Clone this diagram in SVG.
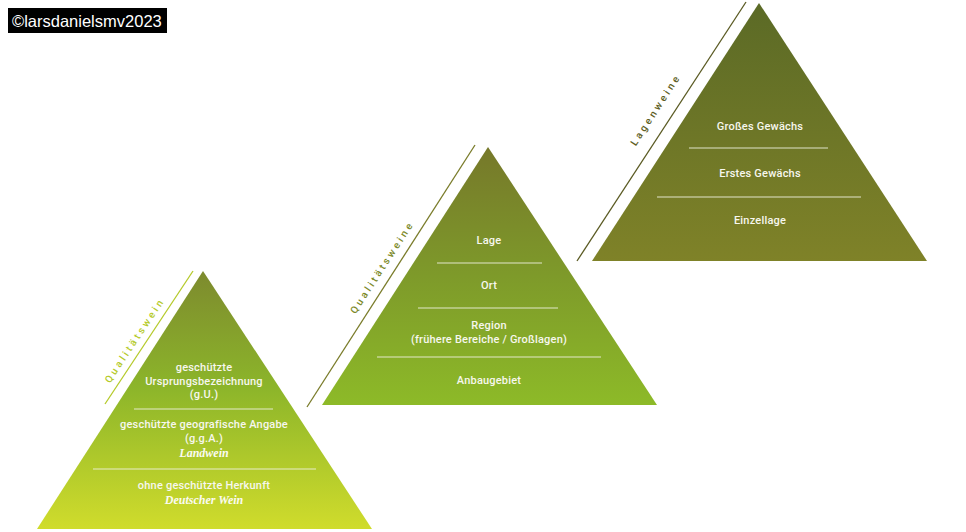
<svg xmlns="http://www.w3.org/2000/svg" width="966" height="532" viewBox="0 0 966 532">
<defs>
<linearGradient id="g1" x1="0" y1="0" x2="0" y2="1">
<stop offset="0" stop-color="#7d8a2e"/>
<stop offset="0.45" stop-color="#8cb52a"/>
<stop offset="1" stop-color="#d0dc2c"/>
</linearGradient>
<linearGradient id="g2" x1="0" y1="0" x2="0" y2="1">
<stop offset="0" stop-color="#76782a"/>
<stop offset="0.5" stop-color="#7e9a2a"/>
<stop offset="1" stop-color="#8dba28"/>
</linearGradient>
<linearGradient id="g3" x1="0" y1="0" x2="0" y2="1">
<stop offset="0" stop-color="#5b6a26"/>
<stop offset="1" stop-color="#7f8228"/>
</linearGradient>
<style>
.t{font-family:Roboto,"Liberation Sans",sans-serif;font-size:11px;font-weight:500;fill:#f7f7ee;text-anchor:middle;letter-spacing:0.2px}
.it{font-family:"Liberation Serif",serif;font-size:12px;font-style:italic;font-weight:bold;fill:#fbfbf2;text-anchor:middle}
.div{stroke:#eef0dc;stroke-width:1.2;opacity:0.9}
.side{font-family:Roboto,"Liberation Sans",sans-serif;font-size:10px;font-weight:500;text-anchor:middle;letter-spacing:3px}
</style>
</defs>
<g id="watermark">
<rect x="8" y="8" width="159" height="25" fill="#000"/>
<text x="12" y="27" font-family="'Liberation Sans',Arial,sans-serif" font-size="16.5" fill="#fff">©larsdanielsmv2023</text>
</g>
<g id="pyramid-1">
<polygon points="203,271 37,529 372,529" fill="url(#g1)"/>
<line x1="105" y1="404" x2="193" y2="271" stroke="#b5ca2a" stroke-width="1.3"/>
<text class="side" fill="#b5ca2a" transform="translate(137.5,342) rotate(-56.5)">Qualitätswein</text>
<line class="div" x1="134" y1="409" x2="273" y2="409"/>
<line class="div" x1="93" y1="469" x2="316" y2="469"/>
<text class="t" x="204" y="371">geschützte</text>
<text class="t" x="204" y="385">Ursprungsbezeichnung</text>
<text class="t" x="204" y="398">(g.U.)</text>
<text class="t" x="204" y="428">geschützte geografische Angabe</text>
<text class="t" x="204" y="442">(g.g.A.)</text>
<text class="it" x="204" y="457">Landwein</text>
<text class="t" x="204" y="489">ohne geschützte Herkunft</text>
<text class="it" x="204" y="504">Deutscher Wein</text>
</g>
<g id="pyramid-2">
<polygon points="488,147 322,405 657,405" fill="url(#g2)"/>
<line x1="307" y1="407" x2="475" y2="145" stroke="#7a7c2a" stroke-width="1.3"/>
<text class="side" fill="#7d8a2a" transform="translate(385,269) rotate(-57)">Qualitätsweine</text>
<line class="div" x1="437" y1="263" x2="542" y2="263"/>
<line class="div" x1="418" y1="308" x2="558" y2="308"/>
<line class="div" x1="377" y1="357" x2="601" y2="357"/>
<text class="t" x="489" y="244">Lage</text>
<text class="t" x="489" y="289">Ort</text>
<text class="t" x="489" y="329">Region</text>
<text class="t" x="489" y="343">(frühere Bereiche / Großlagen)</text>
<text class="t" x="489" y="384">Anbaugebiet</text>
</g>
<g id="pyramid-3">
<polygon points="759,3 592,261 927,261" fill="url(#g3)"/>
<line x1="577" y1="261" x2="746" y2="2" stroke="#5a5a22" stroke-width="1.3"/>
<text class="side" fill="#5e5e24" transform="translate(658.5,111.5) rotate(-57)">Lagenweine</text>
<line class="div" x1="689" y1="148" x2="828" y2="148"/>
<line class="div" x1="657" y1="197" x2="861" y2="197"/>
<text class="t" x="760" y="130">Großes Gewächs</text>
<text class="t" x="760" y="177">Erstes Gewächs</text>
<text class="t" x="760" y="224">Einzellage</text>
</g>
</svg>
